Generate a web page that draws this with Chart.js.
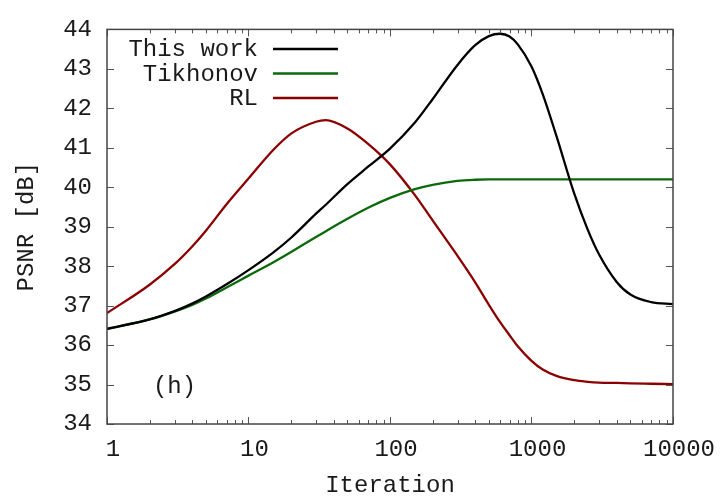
<!DOCTYPE html>
<html>
<head>
<meta charset="utf-8">
<script src="https://cdn.jsdelivr.net/npm/chart.js@4.4.1/dist/chart.umd.min.js"></script>
<style>
    html, body { margin: 0; padding: 0; background: #fff; }
    #wrap { width: 720px; height: 504px; position: relative; }
</style>
</head>
<body>
<div id="wrap"><canvas id="psnrChart"></canvas></div>
<script>
// Data
const iterations = [1, 2, 3, 4, 5, 7, 10, 15, 20, 30, 35, 50, 70, 100, 150, 200, 300, 400, 500, 600, 700, 800,
    1000, 1200, 1500, 2000, 2500, 3000, 4000, 5000, 7000, 10000];
const thisWork = [36.41, 36.65, 36.86, 37.05, 37.23, 37.54, 37.90, 38.35, 38.72, 39.33, 39.55, 40.08, 40.52, 40.98,
    41.64, 42.23, 43.10, 43.60, 43.83, 43.89, 43.82, 43.62, 43.06, 42.36, 41.30, 39.85, 38.92, 38.30, 37.60, 37.28,
    37.09, 37.04];
const tikhonov = [36.41, 36.65, 36.85, 37.02, 37.18, 37.46, 37.76, 38.10, 38.36, 38.74, 38.88, 39.20, 39.48, 39.73,
    39.95, 40.06, 40.16, 40.19, 40.20, 40.20, 40.20, 40.20, 40.20, 40.20, 40.20, 40.20, 40.20, 40.20, 40.20, 40.20,
    40.20, 40.20];
const rl = [36.81, 37.53, 38.05, 38.50, 38.90, 39.57, 40.22, 40.95, 41.36, 41.66, 41.70, 41.49, 41.10, 40.58,
    39.80, 39.16, 38.26, 37.59, 37.02, 36.58, 36.25, 35.97, 35.60, 35.38, 35.22, 35.11, 35.07, 35.05, 35.04, 35.03,
    35.02, 35.01];
const seriesNames = ['This work', 'Tikhonov', 'RL'];
const seriesColors = ['#000000', '#0a6a0a', '#8b0000'];
const xTicks = [1, 10, 100, 1000, 10000];
const panelLabel = '(h)';

const FONT = "'Liberation Mono', 'Courier New', monospace";
const TEXT = '#1a1a1a';

function toPoints(values) {
    return iterations.map((it, i) => ({ x: it, y: values[i] }));
}

// gnuplot-style frame with inward ticks, mirrored, plus key and panel label
const framePlugin = {
    id: 'frame',
    afterDraw(chart) {
        const { ctx, chartArea: a, scales } = chart;
        const xs = scales.x, ys = scales.y;
        ctx.save();
        ctx.strokeStyle = '#555';
        ctx.lineWidth = 1;
        // y ticks
        for (let v = 34; v <= 44; v++) {
            const py = Math.round(ys.getPixelForValue(v)) + 0.5;
            ctx.beginPath();
            ctx.moveTo(a.left, py); ctx.lineTo(a.left + 7, py);
            ctx.moveTo(a.right, py); ctx.lineTo(a.right - 7, py);
            ctx.stroke();
        }
        // x ticks, major and minor
        for (let d = 1; d <= 10000; d *= 10) {
            for (let m = 1; m <= 9; m++) {
                const v = d * m;
                if (v > 10000) break;
                const len = m === 1 ? 7 : 4;
                const px = Math.round(xs.getPixelForValue(v)) + 0.5;
                ctx.beginPath();
                ctx.moveTo(px, a.bottom); ctx.lineTo(px, a.bottom - len);
                ctx.moveTo(px, a.top); ctx.lineTo(px, a.top + len);
                ctx.stroke();
            }
        }
        // frame
        ctx.strokeStyle = '#444';
        ctx.lineWidth = 1.5;
        ctx.strokeRect(a.left, a.top, a.right - a.left, a.bottom - a.top);

        // key
        ctx.font = '24px ' + FONT;
        ctx.textAlign = 'right';
        ctx.textBaseline = 'middle';
        seriesNames.forEach((name, i) => {
            const y = a.top + 19.5 + i * 24.5;
            ctx.fillStyle = TEXT;
            ctx.fillText(name, a.left + 151, y + 1);
            ctx.strokeStyle = seriesColors[i];
            ctx.lineWidth = 2.5;
            ctx.beginPath();
            ctx.moveTo(a.left + 166, y);
            ctx.lineTo(a.left + 231, y);
            ctx.stroke();
        });

        // panel label
        ctx.textAlign = 'center';
        ctx.fillStyle = TEXT;
        ctx.fillText(panelLabel, xs.getPixelForValue(3), ys.getPixelForValue(34.95));
        ctx.restore();
    }
};

document.addEventListener('DOMContentLoaded', function() {
    const ctx = document.getElementById('psnrChart').getContext('2d');
    const data = [thisWork, tikhonov, rl];

    new Chart(ctx, {
        type: 'line',
        data: {
            datasets: seriesNames.map((name, i) => ({
                label: name,
                data: toPoints(data[i]),
                borderColor: seriesColors[i],
                borderWidth: 2.3,
                pointRadius: 0,
                fill: false,
                cubicInterpolationMode: 'monotone'
            }))
        },
        options: {
            responsive: true,
            maintainAspectRatio: false,
            animation: false,
            layout: { padding: { left: 0, right: 45, top: 25, bottom: 0 } },
            plugins: {
                legend: { display: false },
                tooltip: { enabled: false }
            },
            scales: {
                x: {
                    type: 'logarithmic',
                    min: 1,
                    max: 10000,
                    afterBuildTicks: s => { s.ticks = xTicks.map(v => ({ value: v })); },
                    afterFit: s => { s.height = 80; },
                    grid: { display: false, drawTicks: false },
                    border: { display: false },
                    ticks: {
                        autoSkip: false,
                        maxRotation: 0,
                        padding: 11,
                        labelOffset: 6,
                        color: TEXT,
                        font: { family: FONT, size: 24 },
                        callback: v => String(v)
                    },
                    title: {
                        display: true,
                        text: 'Iteration',
                        color: TEXT,
                        font: { family: FONT, size: 24 },
                        padding: { top: 0, bottom: 4 }
                    }
                },
                y: {
                    type: 'linear',
                    min: 34,
                    max: 44,
                    afterFit: s => { s.width = 107; },
                    grid: { display: false, drawTicks: false },
                    border: { display: false },
                    ticks: {
                        stepSize: 1,
                        padding: 15,
                        color: TEXT,
                        font: { family: FONT, size: 24 }
                    },
                    title: {
                        display: true,
                        text: 'PSNR [dB]',
                        color: TEXT,
                        font: { family: FONT, size: 24 },
                        padding: { top: 12, bottom: 0 }
                    }
                }
            }
        },
        plugins: [framePlugin]
    });
});
</script>
</body>
</html>
